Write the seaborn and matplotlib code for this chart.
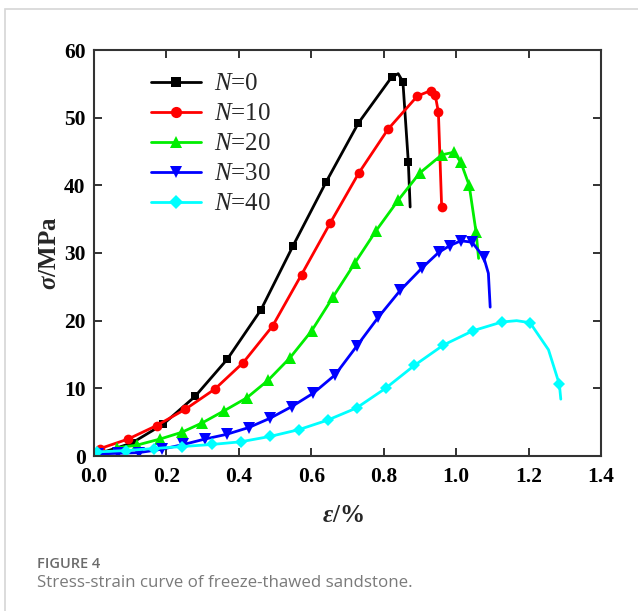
import matplotlib
matplotlib.use("Agg")
import matplotlib.pyplot as plt
from matplotlib.patches import Rectangle
import pandas as pd
import seaborn as sns

# Stress-strain data for sandstone after N freeze-thaw cycles (strain in %, stress in MPa)
strain_n0 = [0.010, 0.104, 0.191, 0.279, 0.368, 0.461, 0.550, 0.641, 0.730, 0.822, 0.840, 0.853, 0.868, 0.873]
stress_n0 = [0.3, 1.9, 4.7, 8.8, 14.3, 21.6, 31.1, 40.5, 49.2, 56.0, 56.5, 55.3, 43.4, 36.8]
marks_n0 = [0, 1, 2, 3, 4, 5, 6, 7, 8, 9, 11, 12]

strain_n10 = [0.017, 0.094, 0.173, 0.252, 0.334, 0.412, 0.493, 0.573, 0.653, 0.731, 0.812, 0.893, 0.930, 0.942, 0.951, 0.960]
stress_n10 = [1.1, 2.5, 4.5, 6.9, 9.9, 13.8, 19.2, 26.8, 34.5, 41.8, 48.3, 53.2, 54.0, 53.4, 50.8, 36.8]
marks_n10 = list(range(16))

strain_n20 = [0.063, 0.118, 0.182, 0.242, 0.299, 0.360, 0.422, 0.481, 0.541, 0.601, 0.660, 0.720, 0.779,
              0.840, 0.899, 0.960, 0.994, 1.013, 1.036, 1.055, 1.062]
stress_n20 = [1.2, 1.6, 2.5, 3.5, 4.9, 6.7, 8.6, 11.2, 14.5, 18.5, 23.5, 28.5, 33.3,
              37.8, 41.8, 44.5, 44.9, 43.4, 40.0, 33.1, 29.2]
marks_n20 = list(range(20))

strain_n30 = [0.010, 0.066, 0.124, 0.187, 0.247, 0.306, 0.366, 0.427, 0.487, 0.546, 0.606, 0.666, 0.725,
              0.785, 0.846, 0.906, 0.952, 0.983, 1.013, 1.044, 1.076, 1.089, 1.094]
stress_n30 = [0.3, 0.4, 0.5, 1.0, 1.7, 2.5, 3.2, 4.2, 5.6, 7.3, 9.3, 12.0, 16.2,
              20.5, 24.5, 27.8, 30.1, 31.1, 31.8, 31.6, 29.4, 27.0, 22.0]
marks_n30 = list(range(21))

strain_n40 = [0.007, 0.087, 0.165, 0.244, 0.325, 0.405, 0.487, 0.566, 0.645, 0.725, 0.805, 0.885, 0.965,
              1.046, 1.126, 1.167, 1.204, 1.255, 1.285, 1.289]
stress_n40 = [0.6, 0.8, 1.1, 1.4, 1.7, 2.1, 2.9, 3.9, 5.3, 7.1, 10.0, 13.4, 16.4,
              18.5, 19.8, 20.0, 19.7, 15.7, 10.6, 8.4]
marks_n40 = [0, 1, 2, 3, 4, 5, 6, 7, 8, 9, 10, 11, 12, 13, 14, 16, 18]

cycle_labels = ["0", "10", "20", "30", "40"]
x_ticks = [0.0, 0.2, 0.4, 0.6, 0.8, 1.0, 1.2, 1.4]
y_ticks = [0, 10, 20, 30, 40, 50, 60]

sns.set_style("ticks")
plt.rcParams["font.family"] = ["Liberation Serif", "DejaVu Serif"]
plt.rcParams["mathtext.fontset"] = "custom"
plt.rcParams["mathtext.rm"] = "Liberation Serif"
plt.rcParams["mathtext.it"] = "Liberation Serif:italic"
plt.rcParams["mathtext.bf"] = "Liberation Serif:bold:italic"

W, H = 638, 611
fig = plt.figure(figsize=(W / 100, H / 100), dpi=100)
fig.patch.set_facecolor("white")
ax = fig.add_axes([94 / W, 1 - 456 / H, (601 - 94) / W, (456 - 50) / H])

curves = [
    (strain_n0, stress_n0, marks_n0, "#000000", "s", 6.2),
    (strain_n10, stress_n10, marks_n10, "#ff0000", "o", 7.0),
    (strain_n20, stress_n20, marks_n20, "#00ee00", "^", 8),
    (strain_n30, stress_n30, marks_n30, "#0000ff", "v", 8),
    (strain_n40, stress_n40, marks_n40, "#00ffff", "D", 6.3),
]

for (xs, ys, marks, color, marker, ms), lab in zip(curves, cycle_labels):
    df = pd.DataFrame({"strain": xs, "stress": ys})
    sns.lineplot(data=df, x="strain", y="stress", sort=False, estimator=None,
                 color=color, linewidth=2.0, marker=marker, markersize=ms,
                 markeredgewidth=0, markevery=marks,
                 label=r"$N$=" + lab, ax=ax)

ax.set_xlim(0, 1.4)
ax.set_ylim(0, 60)
ax.set_xticks(x_ticks)
ax.set_yticks(y_ticks)
ax.set_xticklabels([f"{v:.1f}" for v in x_ticks])
ax.set_yticklabels([str(v) for v in y_ticks])
ax.tick_params(axis="both", direction="in", length=6, width=1.3, colors="#222222",
               top=True, right=True, labelsize=15.5)
ax.tick_params(axis="x", pad=8)
ax.tick_params(axis="y", pad=6)
for lbl in ax.get_xticklabels() + ax.get_yticklabels():
    lbl.set_fontweight("bold")
    lbl.set_color("black")
for sp in ax.spines.values():
    sp.set_visible(True)
    sp.set_linewidth(1.5)
    sp.set_color("#333333")

ax.set_xlabel("")
ax.set_ylabel("")
fig.text(343 / W, 1 - 515 / H, r"$\mathbf{\varepsilon}$/%", ha="center", va="center",
         fontsize=18, fontweight="bold")
fig.text(49 / W, 1 - 253 / H, r"$\mathbf{\sigma}$/MPa", ha="center", va="center",
         rotation=90, fontsize=18, fontweight="bold")

ax.legend(loc="upper left", bbox_to_anchor=((151 - 94) / 507, 1 - (73 - 50) / 406),
          frameon=False, fontsize=18, handlelength=2.0, handletextpad=0.5,
          labelspacing=0.3, borderpad=0, borderaxespad=0, numpoints=1, markerscale=1.15)

# Figure frame and caption
fig.patches.append(Rectangle((5 / W, -0.05), 1.0, 1 - 9 / H + 0.05, transform=fig.transFigure,
                             fill=False, edgecolor="#d6d6d6", linewidth=1.2))
fig.text(37 / W, 1 - 568 / H, "FIGURE 4", ha="left", va="baseline",
         fontsize=10.5, family="Open Sans", fontweight="semibold", color="#6b6b6b")
fig.text(37 / W, 1 - 587 / H, "Stress-strain curve of freeze-thawed sandstone.",
         ha="left", va="baseline", fontsize=12.2, family="Open Sans", color="#7a7a7a")

fig.savefig("out.png", dpi=100, facecolor="white")
